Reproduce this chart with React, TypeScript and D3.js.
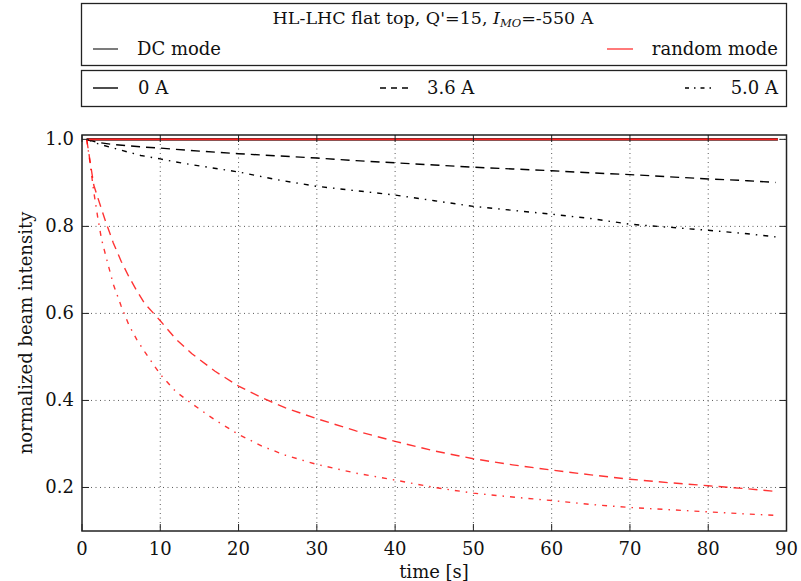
import React from "react";
import * as d3 from "d3";

const xTicks = [0, 10, 20, 30, 40, 50, 60, 70, 80, 90];
const yTicks = [0.2, 0.4, 0.6, 0.8, 1.0];

const tSolid = [0.6, 88.9];
const vDcSolid = [1.0, 1.0];
const vRandSolid = [1.0, 1.0];

const tDc36 = [0.6, 2, 4, 6, 8, 10, 12, 15, 20, 25, 30, 35, 40, 45, 50, 55, 60, 65, 70, 75, 80, 85, 88.6];
const vDc36 = [1.0, 0.993, 0.988, 0.985, 0.982, 0.98, 0.977, 0.973, 0.967, 0.962, 0.957, 0.951, 0.946, 0.941, 0.936, 0.932, 0.928, 0.923, 0.919, 0.914, 0.909, 0.905, 0.901];

const tDc50 = [0.6, 2, 5, 7.5, 10, 12, 15, 20, 25, 30, 35, 40, 45, 50, 55, 60, 65, 70, 75, 80, 85, 88.6];
const vDc50 = [1.0, 0.99, 0.975, 0.963, 0.955, 0.948, 0.939, 0.925, 0.907, 0.892, 0.882, 0.872, 0.859, 0.846, 0.837, 0.828, 0.818, 0.805, 0.798, 0.791, 0.783, 0.776];

const tRand36 = [0.6, 1.5, 2, 3, 4, 5, 6, 7, 8, 10, 12, 14, 17, 20, 23, 26, 30, 35, 40, 45, 50, 55, 60, 65, 70, 75, 80, 85, 88.6];
const vRand36 = [1.0, 0.895, 0.867, 0.812, 0.762, 0.72, 0.684, 0.652, 0.623, 0.583, 0.541, 0.508, 0.467, 0.433, 0.406, 0.383, 0.358, 0.33, 0.306, 0.284, 0.266, 0.252, 0.24, 0.229, 0.219, 0.211, 0.204, 0.197, 0.191];

const tRand50 = [0.6, 1, 1.5, 2, 2.5, 3, 4, 5, 6, 7, 8, 10, 12, 14, 17, 20, 23, 26, 30, 35, 40, 45, 50, 55, 60, 65, 70, 75, 80, 85, 88.6];
const vRand50 = [1.0, 0.95, 0.88, 0.822, 0.77, 0.735, 0.667, 0.617, 0.573, 0.54, 0.512, 0.46, 0.42, 0.393, 0.355, 0.322, 0.295, 0.274, 0.253, 0.233, 0.217, 0.2, 0.187, 0.178, 0.17, 0.161, 0.154, 0.149, 0.144, 0.139, 0.136];

const FONT = "DejaVu Serif";
const FS = 18;
const FT = 17.5;

const L = 82, R = 786.5, T = 135, B = 531;

export default function App() {
  const x = d3.scaleLinear().domain([0, 90]).range([L, R]);
  const y = d3.scaleLinear().domain([0.1, 1.01]).range([B, T]);
  const line = (ts: number[], vs: number[]) =>
    d3.line<number>().x((_, i) => x(ts[i])).y((v) => y(v))(vs) || "";

  const DASH = "9,6";
  const DASHDOT = "5,6,1.5,6";
  const RED = "rgba(255,0,0,0.8)";
  const BLK = "#000";

  const series = [
    { t: tSolid, v: vDcSolid, color: "#333", dash: "", w: 2.8 },
    { t: tDc36, v: vDc36, color: BLK, dash: DASH, w: 1.4 },
    { t: tDc50, v: vDc50, color: BLK, dash: DASHDOT, w: 1.4 },
    { t: tRand36, v: vRand36, color: RED, dash: DASH, w: 1.4 },
    { t: tRand50, v: vRand50, color: RED, dash: DASHDOT, w: 1.4 },
    { t: tSolid, v: vRandSolid, color: "#ff2020", dash: "", w: 1.8 },
  ];

  return (
    <svg width={801} height={581} style={{ position: "absolute", left: 0, top: 0, background: "#fff" }} fontFamily={FONT}>
      <rect x={0} y={0} width={801} height={581} fill="#fff" />
      {/* legend box 1 */}
      <rect x={81.5} y={3.5} width={705} height={62} fill="#fff" stroke="#222" strokeWidth={1.3} />
      <text x={433} y={24} textAnchor="middle" fontSize={FT} fill="#111">
        HL-LHC flat top, Q'=15, <tspan fontStyle="italic">I</tspan>
        <tspan fontStyle="italic" fontSize={11.5} dy={3}>MO</tspan>
        <tspan dy={-3}>=-550 A</tspan>
      </text>
      <line x1={93} x2={118} y1={49} y2={49} stroke="#444" strokeWidth={1.4} />
      <text x={137} y={55} fontSize={FS} fill="#111">DC mode</text>
      <line x1={607} x2={633} y1={49} y2={49} stroke="rgba(255,0,0,0.75)" strokeWidth={1.4} />
      <text x={778} y={55} fontSize={FS} textAnchor="end" fill="#111">random mode</text>
      {/* legend box 2 */}
      <rect x={81.5} y={70.5} width={705} height={36} fill="#fff" stroke="#222" strokeWidth={1.3} />
      <line x1={93} x2={118} y1={88} y2={88} stroke="#000" strokeWidth={1.4} />
      <text x={138} y={94} fontSize={FS} fill="#111">0 A</text>
      <line x1={380} x2={408} y1={88} y2={88} stroke="#000" strokeWidth={1.4} strokeDasharray="6,5" />
      <text x={427} y={94} fontSize={FS} fill="#111">3.6 A</text>
      <line x1={685} x2={712} y1={88} y2={88} stroke="#000" strokeWidth={1.4} strokeDasharray="4,5,1.5,5" />
      <text x={778} y={94} fontSize={FS} textAnchor="end" fill="#111">5.0 A</text>

      {/* grid */}
      <g stroke="#333" strokeWidth={1} strokeDasharray="1,3.5" opacity={0.8}>
        {xTicks.slice(1, -1).map((t) => (
          <line key={"gx" + t} x1={x(t)} x2={x(t)} y1={T} y2={B} />
        ))}
        {yTicks.map((t) => (
          <line key={"gy" + t} x1={L} x2={R} y1={y(t)} y2={y(t)} />
        ))}
      </g>

      {/* series */}
      <g fill="none">
        {series.map((s, i) => (
          <path key={i} d={line(s.t, s.v)} stroke={s.color} strokeWidth={s.w} strokeDasharray={s.dash || undefined} />
        ))}
      </g>

      {/* ticks */}
      <g stroke="#222" strokeWidth={1}>
        {xTicks.map((t) => (
          <g key={"tx" + t}>
            <line x1={x(t)} x2={x(t)} y1={B} y2={B - 7} />
            <line x1={x(t)} x2={x(t)} y1={T} y2={T + 7} />
          </g>
        ))}
        {yTicks.map((t) => (
          <g key={"ty" + t}>
            <line x1={L} x2={L + 7} y1={y(t)} y2={y(t)} />
            <line x1={R} x2={R - 7} y1={y(t)} y2={y(t)} />
          </g>
        ))}
      </g>
      <rect x={L} y={T} width={R - L} height={B - T} fill="none" stroke="#222" strokeWidth={1.5} />

      {/* tick labels */}
      {xTicks.map((t) => (
        <text key={"lx" + t} x={x(t)} y={555} textAnchor="middle" fontSize={FS} fill="#111">{t}</text>
      ))}
      {yTicks.map((t) => (
        <text key={"ly" + t} x={74} y={y(t) + 6} textAnchor="end" fontSize={FS} fill="#111">{t.toFixed(1)}</text>
      ))}
      <text x={434} y={578} textAnchor="middle" fontSize={FS} fill="#111">time [s]</text>
      <text transform={`translate(32,${(T + B) / 2}) rotate(-90)`} textAnchor="middle" fontSize={FS} fill="#111">normalized beam intensity</text>
    </svg>
  );
}
